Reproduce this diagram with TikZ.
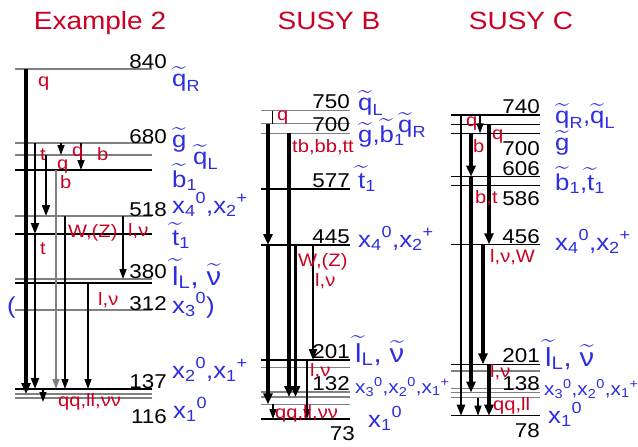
\documentclass[tikz,border=0pt]{standalone}
\usepackage{amsmath}
\usepackage{fontspec}
\setmainfont{Liberation Sans}[FakeStretch=1.12]
\usetikzlibrary{arrows.meta}
\definecolor{susyred}{RGB}{204,0,34}
\definecolor{susyblue}{RGB}{45,45,225}
\newcommand\tld[1]{$\widetilde{\text{#1}}$}
\newcommand\stil[2]{$\widetilde{\text{#1}}_{\text{#2}}$}
\newcommand\neut[2]{x${}_{\text{#1}}{}^{\text{#2}}$}

\begin{document}
\begin{tikzpicture}[x=1pt,y=-1pt,
  lvl/.style={line width=1.3pt},
  num/.style={anchor=base east,inner sep=0pt,font=\fontsize{20}{22}\selectfont},
  part/.style={anchor=base west,inner sep=0pt,text=susyblue,font=\fontsize{23}{26}\selectfont},
  partl/.style={part,font=\fontsize{26}{28}\selectfont},
  parts/.style={part,font=\fontsize{18.5}{21}\selectfont},
  dec/.style={anchor=base west,inner sep=0pt,text=susyred,font=\fontsize{18}{20}\selectfont},
  ttl/.style={anchor=base,inner sep=0pt,text=susyred,font=\fontsize{25}{28}\selectfont},
  arw/.style={-{Triangle[length=10pt,width=7pt]},line width=1.3pt},
  arwm/.style={-{Triangle[length=11pt,width=8pt]},line width=2.2pt},
  arwt/.style={-{Triangle[length=11pt,width=9pt]},line width=3.4pt}]
\useasboundingbox (0,0) rectangle (638,447);

% titles
\node[ttl] (ex2) at (100,30) {Example 2};
\node[ttl] (susyb) at (329,30) {SUSY B};
\node[ttl] (susyc) at (521,30) {SUSY C};

% Example 2
\foreach \n/\y/\c in {a840/69/gray,a680/143/gray,aqL/155/gray,ab1/170/black,
    a518/216/gray,at1/234/black,a380/279/gray,al/283/black,a312/310/gray,
    a137/389/black,ax2/394/gray,a116/398/gray}
  \draw[lvl,draw=\c] (15,\y) coordinate (\n) -- (152,\y);
\foreach \t/\y in {840/68,680/143,518/216,380/278,312/310,137/388,116/423}
  \node[num] (an\t) at (167,\y) {\t};
\node[part] (aqR) at (172,86) {\stil{q}{R}};
\node[part] (agl) at (172,147) {\tld{g}};
\node[part] (aqLl) at (193,164) {\stil{q}{L}};
\node[part] (ab1l) at (172,187) {\stil{b}{1}};
\node[part] (ax4l) at (172,213) {\neut{4}{0},\neut{2}{+}};
\node[part] (at1l) at (172,245) {\stil{t}{1}};
\node[partl] (asll) at (172,285) {\stil{l}{L}, \tld{ν}};
\node[part] (apar) at (7,313) {(};
\node[part] (ax3l) at (172,313) {\neut{3}{0})};
\node[part] (ax2l) at (172,378) {\neut{2}{0},\neut{1}{+}};
\node[part] (ax1l) at (173,418) {\neut{1}{0}};

\draw[arwt] ([xshift=11pt]a840) -- ([xshift=11pt]ax2);
\draw[arwm] ([xshift=20pt]a680) -- ([xshift=20pt]at1);
\draw[arwm] ([xshift=20pt]at1) -- ([xshift=20pt]a137);
\draw[arwm] ([xshift=31pt]aqL) -- ([xshift=31pt]a518);
\draw[arw] ([xshift=46pt]a680) -- ([xshift=46pt]aqL);
\draw[arw] ([xshift=66pt]a680) -- ([xshift=66pt]ab1);
\draw[arw,gray] ([xshift=41pt]ab1) -- ([xshift=41pt]a137);
\draw[arw] ([xshift=50pt]a518) -- ([xshift=50pt]a137);
\draw[arw] ([xshift=108pt]a518) -- ([xshift=108pt]a380);
\draw[arw] ([xshift=73pt]al) -- ([xshift=73pt]a137);
\draw[arw] ([xshift=28pt]a137) -- ([xshift=28pt,yshift=-4pt]a116);

\node[dec] (aq1) at (38,86) {q};
\node[dec] (at) at (40,160) {t};
\node[dec] (aq2) at (72,156) {q};
\node[dec] (ab) at (97,160) {b};
\node[dec] (aq3) at (57,169) {q};
\node[dec] (ab2) at (60,188) {b};
\node[dec] (awz) at (68,237) {W,(Z)};
\node[dec] (aln1) at (128,236) {l,ν};
\node[dec] (at2) at (40,254) {t};
\node[dec] (aln2) at (98,305) {l,ν};
\node[dec] (aqq) at (58,406) {qq,ll,νν};

% SUSY B
\foreach \n/\y/\c in {b750/110.7/gray,bqR/123.5/gray,b700/133.3/gray,b577/189/black,
    b445/245/black,b201/360/black,bsn/367.5/gray,b132/392/gray,bx2/397/gray,
    bx1/404.3/gray,b73/419/black}
  \draw[lvl,draw=\c] (261,\y) coordinate (\n) -- (350,\y);
\foreach \t/\y in {750/108,700/131,577/187,445/243,201/358,132/390}
  \node[num] (bn\t) at (350,\y) {\t};
\node[num] (bn73) at (355,440) {73};
\node[part] (bqLl) at (358,110) {\stil{q}{L}};
\node[part] (bgl) at (358,142) {\tld{g},\stil{b}{1}};
\node[part] (bqRl) at (398,132) {\stil{q}{R}};
\node[part] (bt1l) at (358,188) {\stil{t}{1}};
\node[part] (bx4l) at (358,247) {\neut{4}{0},\neut{2}{+}};
\node[partl] (bsll) at (355,362) {\stil{l}{L}, \tld{ν}};
\node[parts] (bx3l) at (355,393) {\neut{3}{0},\neut{2}{0},\neut{1}{+}};
\node[part] (bx1l) at (368,427) {\neut{1}{0}};

\draw[lvl] ([xshift=11.5pt]b750) -- ([xshift=11.5pt]bqR);
\draw[arwt] ([xshift=7pt]bqR) -- ([xshift=7pt]b445);
\draw[arwt] ([xshift=7pt]b445) -- ([xshift=7pt]bx1);
\draw[arwt] ([xshift=28pt]b700) -- ([xshift=28pt]bx2);
\draw[arwt] ([xshift=34.5pt]b445) -- ([xshift=34.5pt]bx2);
\draw[arwm] ([xshift=52pt]b445) -- ([xshift=52pt]b201);
\draw[arw] ([xshift=46pt]b201) -- ([xshift=46pt]b73);
\draw[arw] ([xshift=12pt]bx1) -- ([xshift=12pt]b73);

\node[dec] (bq) at (277,120) {q};
\node[dec] (btb) at (292,152) {tb,bb,tt};
\node[dec] (bwz) at (298,266) {W,(Z)};
\node[dec] (bln1) at (315,286) {l,ν};
\node[dec] (bln2) at (310,376) {l,ν};
\node[dec] (bqq) at (275,418) {qq,ll,νν};

% SUSY C
\foreach \n/\y/\c in {c740/115/black,cqL/124.3/black,c700/133.3/black,c606/176.7/black,
    c586/185.7/black,c456/244.3/black,c201/364.3/black,csn/371/gray,c138/388.5/gray,
    cx2/392.5/gray,cx1/397.5/gray,c78/415.7/black}
  \draw[lvl,draw=\c] (451,\y) coordinate (\n) -- (540,\y);
\foreach \t/\y in {740/113,700/155,606/175,586/205,456/243,201/362,138/390,78/437}
  \node[num] (cn\t) at (540,\y) {\t};
\node[part] (cqRl) at (555,123) {\stil{q}{R},\stil{q}{L}};
\node[part] (cgl) at (555,150) {\tld{g}};
\node[part] (cb1l) at (555,190) {\stil{b}{1},\stil{t}{1}};
\node[part] (cx4l) at (555,250) {\neut{4}{0},\neut{2}{+}};
\node[partl] (csll) at (545,366) {\stil{l}{L}, \tld{ν}};
\node[parts] (cx3l) at (544,395) {\neut{3}{0},\neut{2}{0},\neut{1}{+}};
\node[part] (cx1l) at (548,423) {\neut{1}{0}};

\draw[arwm] ([xshift=10pt]c740) -- ([xshift=10pt]c78);
\draw[arw] ([xshift=29pt]c740) -- ([xshift=29pt]c700);
\draw[arwt] ([xshift=20pt]c700) -- ([xshift=20pt]c606);
\draw[arwt] ([xshift=20pt]c606) -- ([xshift=20pt]cx2);
\draw[arwt] ([xshift=38pt]cqL) -- ([xshift=38pt]c456);
\draw[arwt] ([xshift=32pt]c456) -- ([xshift=32pt]c201);
\draw[arwt] ([xshift=38pt]c201) -- ([xshift=38pt]c78);
\draw[arw] ([xshift=27pt]cx1) -- ([xshift=27pt]c78);

\node[dec] (cq1) at (466,126) {q};
\node[dec] (cq2) at (492,139) {q};
\node[dec] (cb) at (473,152) {b};
\node[dec] (cbt) at (475,203) {b,t};
\node[dec] (clnw) at (490,262) {l,ν,W};
\node[dec] (cln) at (490,377) {l,ν};
\node[dec] (cqq) at (493,410) {qq,ll};
\end{tikzpicture}
\end{document}
